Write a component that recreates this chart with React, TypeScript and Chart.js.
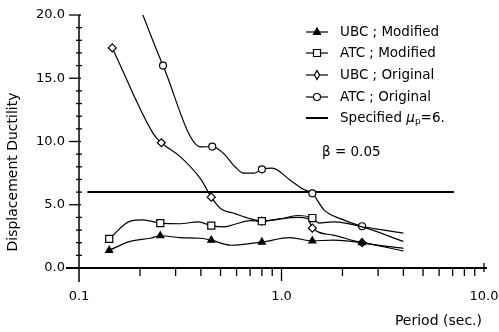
import React, { useEffect, useRef } from "react";
import { Chart, registerables } from "chart.js";

Chart.register(...registerables);

// ---- data (period in sec., displacement ductility) ----
const ubcModPeriods = [0.141, 0.179, 0.225, 0.252, 0.316, 0.397, 0.45, 0.56, 0.8, 1.1, 1.42, 1.8, 2.5, 4.0];
const ubcModValues = [1.4, 2.1, 2.35, 2.55, 2.4, 2.35, 2.2, 1.8, 2.05, 2.4, 2.15, 2.2, 2.0, 1.35];
const ubcModMarkers = [0.141, 0.252, 0.45, 0.8, 1.42, 2.5];

const atcModPeriods = [0.141, 0.179, 0.207, 0.252, 0.316, 0.388, 0.45, 0.52, 0.6, 0.7, 0.8, 1.0, 1.2, 1.42, 1.53, 1.8, 2.5, 4.0];
const atcModValues = [2.3, 3.7, 3.8, 3.55, 3.5, 3.65, 3.35, 3.25, 3.5, 3.75, 3.7, 3.9, 4.15, 3.95, 3.55, 3.65, 3.25, 2.1];
const atcModMarkers = [0.141, 0.252, 0.45, 0.8, 1.42];

const ubcOrigPeriods = [0.146, 0.233, 0.255, 0.316, 0.4, 0.45, 0.5, 0.59, 0.7, 0.8, 1.0, 1.2, 1.35, 1.42, 1.8, 2.5, 4.0];
const ubcOrigValues = [17.4, 10.6, 9.9, 8.8, 7.0, 5.6, 4.7, 4.3, 3.9, 3.7, 3.9, 4.0, 3.9, 3.15, 2.6, 2.0, 1.55];
const ubcOrigMarkers = [0.146, 0.255, 0.45, 0.8, 1.42, 2.5];

const atcOrigPeriods = [0.145, 0.26, 0.4, 0.455, 0.516, 0.59, 0.65, 0.73, 0.8, 0.9, 1.1, 1.29, 1.42, 1.62, 1.95, 2.5, 3.2, 4.0];
const atcOrigValues = [26.5, 16.0, 9.57, 9.6, 9.07, 8.0, 7.5, 7.5, 7.8, 7.9, 6.96, 6.2, 5.9, 4.6, 3.9, 3.3, 3.0, 2.75];
const atcOrigMarkers = [0.26, 0.455, 0.8, 1.42, 2.5];

const specifiedPeriods = [0.11, 7.1];
const specifiedValues = [6, 6];

const legendLabels = ["UBC ; Modified", "ATC ; Modified", "UBC ; Original", "ATC ; Original", "Specified "];
const yTickValues = [0, 5, 10, 15, 20];
const yTickLabels = ["0.0", "5.0", "10.0", "15.0", "20.0"];
const xTickValues = [0.1, 1, 10];
const xTickLabels = ["0.1", "1.0", "10.0"];
const xTitle = "Period (sec.)";
const yTitle = "Displacement Ductility";
const dampingText = "β = 0.05";

const FONT = "'DejaVu Sans', sans-serif";

function pts(periods: number[], values: number[]) {
  return periods.map((p, i) => ({ x: p, y: values[i] }));
}
function radii(periods: number[], markers: number[], r: number) {
  return periods.map((p) => (markers.includes(p) ? r : 0));
}

function drawMarker(ctx: CanvasRenderingContext2D, style: string, x: number, y: number) {
  ctx.save();
  ctx.strokeStyle = "#000";
  ctx.lineWidth = 1.2;
  ctx.fillStyle = "#fff";
  ctx.beginPath();
  if (style === "triangle") {
    ctx.fillStyle = "#000";
    ctx.moveTo(x, y - 4);
    ctx.lineTo(x + 3.5, y + 2.5);
    ctx.lineTo(x - 3.5, y + 2.5);
    ctx.closePath();
    ctx.fill();
    ctx.stroke();
  } else if (style === "rect") {
    ctx.rect(x - 3.5, y - 3.5, 7, 7);
    ctx.fill();
    ctx.stroke();
  } else if (style === "rectRot") {
    ctx.moveTo(x, y - 4.5);
    ctx.lineTo(x + 2.5, y);
    ctx.lineTo(x, y + 4.5);
    ctx.lineTo(x - 2.5, y);
    ctx.closePath();
    ctx.fill();
    ctx.stroke();
  } else if (style === "circle") {
    ctx.arc(x, y, 3.5, 0, Math.PI * 2);
    ctx.fill();
    ctx.stroke();
  }
  ctx.restore();
}

const decorPlugin = {
  id: "decor",
  afterDraw(chart: any) {
    const ctx: CanvasRenderingContext2D = chart.ctx;
    const area = chart.chartArea;
    const xs = chart.scales.x;
    const ys = chart.scales.y;
    ctx.save();
    ctx.strokeStyle = "#000";
    ctx.fillStyle = "#000";

    // axes lines
    ctx.lineWidth = 1.5;
    ctx.beginPath();
    ctx.moveTo(area.left, area.top);
    ctx.lineTo(area.left, area.bottom + 14);
    ctx.stroke();
    ctx.lineWidth = 2;
    ctx.beginPath();
    ctx.moveTo(area.left - 13, area.bottom);
    ctx.lineTo(area.right + 3, area.bottom);
    ctx.stroke();

    // y ticks
    ctx.lineWidth = 1.3;
    for (let v = 0; v <= 20; v++) {
      const y = ys.getPixelForValue(v);
      ctx.beginPath();
      if (v % 5 === 0) {
        ctx.moveTo(area.left - 10, y);
        ctx.lineTo(area.left + 2, y);
      } else {
        ctx.moveTo(area.left - 3, y);
        ctx.lineTo(area.left + 3, y);
      }
      ctx.stroke();
    }
    ctx.font = `13px ${FONT}`;
    ctx.textAlign = "right";
    ctx.textBaseline = "middle";
    yTickValues.forEach((v, i) => {
      ctx.fillText(yTickLabels[i], area.left - 14, ys.getPixelForValue(v));
    });

    // x ticks
    [0.1, 1].forEach((dec) => {
      for (let m = 2; m <= 9; m++) {
        const x = xs.getPixelForValue(dec * m);
        ctx.beginPath();
        ctx.moveTo(x, area.bottom + 1);
        ctx.lineTo(x, area.bottom + 8);
        ctx.stroke();
      }
    });
    {
      const x1 = xs.getPixelForValue(1);
      ctx.beginPath();
      ctx.moveTo(x1, area.bottom);
      ctx.lineTo(x1, area.bottom + 13);
      ctx.stroke();
      const x10 = xs.getPixelForValue(10);
      ctx.beginPath();
      ctx.moveTo(x10, area.bottom - 5);
      ctx.lineTo(x10, area.bottom + 4);
      ctx.stroke();
    }
    ctx.textAlign = "center";
    xTickValues.forEach((v, i) => {
      ctx.fillText(xTickLabels[i], xs.getPixelForValue(v), area.bottom + 29);
    });

    // titles
    ctx.font = `14px ${FONT}`;
    ctx.textAlign = "right";
    ctx.fillText(xTitle, 482, 321);
    ctx.save();
    ctx.translate(13, 172);
    ctx.rotate(-Math.PI / 2);
    ctx.textAlign = "center";
    ctx.fillText(yTitle, 0, 0);
    ctx.restore();

    // legend
    const styles = ["triangle", "rect", "rectRot", "circle", "none"];
    const rowYs = [32, 53, 75, 97, 118];
    ctx.font = `13.5px ${FONT}`;
    ctx.textAlign = "left";
    legendLabels.forEach((lab, i) => {
      const y = rowYs[i];
      ctx.lineWidth = i === 4 ? 2 : 1.2;
      ctx.beginPath();
      ctx.moveTo(306, y);
      ctx.lineTo(328, y);
      ctx.stroke();
      if (styles[i] !== "none") drawMarker(ctx, styles[i], 317, y);
      ctx.fillText(lab, 340, y);
      if (i === 4) {
        let x = 340 + ctx.measureText(lab).width;
        ctx.font = `italic 13.5px ${FONT}`;
        ctx.fillText("μ", x, y);
        x += ctx.measureText("μ").width;
        ctx.font = `9px ${FONT}`;
        ctx.fillText("p", x, y + 4);
        x += ctx.measureText("p").width;
        ctx.font = `13.5px ${FONT}`;
        ctx.fillText("=6.", x, y);
      }
    });

    ctx.font = `13.5px ${FONT}`;
    ctx.fillText(dampingText, 322, 152);
    ctx.restore();
  },
};

export default function App() {
  const ref = useRef<HTMLCanvasElement | null>(null);
  useEffect(() => {
    if (!ref.current) return;
    const line = {
      borderColor: "#000",
      borderWidth: 1.2,
      pointBorderColor: "#000",
      pointBorderWidth: 1.2,
      pointBackgroundColor: "#fff",
      cubicInterpolationMode: "monotone" as const,
      fill: false,
    };
    const chart = new Chart(ref.current, {
      type: "line",
      data: {
        datasets: [
          {
            ...line,
            label: legendLabels[0],
            data: pts(ubcModPeriods, ubcModValues),
            pointStyle: "triangle",
            pointBackgroundColor: "#000",
            pointRadius: radii(ubcModPeriods, ubcModMarkers, 4),
          },
          {
            ...line,
            label: legendLabels[1],
            data: pts(atcModPeriods, atcModValues),
            pointStyle: "rect",
            pointRadius: radii(atcModPeriods, atcModMarkers, 5),
          },
          {
            ...line,
            label: legendLabels[2],
            data: pts(ubcOrigPeriods, ubcOrigValues),
            pointStyle: "rectRot",
            pointRadius: radii(ubcOrigPeriods, ubcOrigMarkers, 4),
          },
          {
            ...line,
            label: legendLabels[3],
            data: pts(atcOrigPeriods, atcOrigValues),
            pointStyle: "circle",
            pointRadius: radii(atcOrigPeriods, atcOrigMarkers, 3.5),
          },
          {
            label: legendLabels[4],
            data: pts(specifiedPeriods, specifiedValues),
            borderColor: "#000",
            borderWidth: 2,
            pointRadius: 0,
            fill: false,
          },
        ],
      },
      options: {
        responsive: false,
        animation: false,
        devicePixelRatio: 1,
        layout: { padding: { left: 79, top: 15, right: 15, bottom: 64 } },
        plugins: { legend: { display: false }, tooltip: { enabled: false } },
        scales: {
          x: { type: "logarithmic", min: 0.1, max: 10, display: false },
          y: { type: "linear", min: 0, max: 20, display: false },
        },
      },
      plugins: [decorPlugin],
    });
    return () => chart.destroy();
  }, []);
  return (
    <div style={{ position: "fixed", left: 0, top: 0, width: 499, height: 332, background: "#fff" }}>
      <canvas ref={ref} width={499} height={332} style={{ width: 499, height: 332, display: "block" }} />
    </div>
  );
}
